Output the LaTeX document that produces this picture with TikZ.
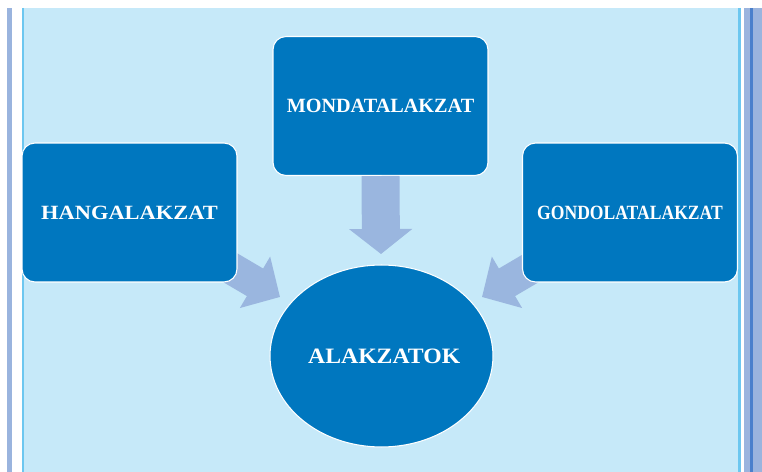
\documentclass[tikz,border=0pt]{standalone}
\usepackage{fontspec}
\setmainfont{Liberation Serif}
\usepackage{graphicx}
\usetikzlibrary{shapes.geometric,arrows.meta}
\definecolor{panelblue}{HTML}{C6E9F9}
\definecolor{boxblue}{HTML}{0077BF}
\definecolor{arrowblue}{HTML}{9AB6DF}
\definecolor{barblue}{HTML}{9AB4DE}
\definecolor{edgecyan}{HTML}{6CC7F0}
\definecolor{bardark}{HTML}{4A80CC}
\newcommand{\lbl}[3][11.5]{\scalebox{#2}[1]{\fontsize{#1}{13}\selectfont\bfseries #3}}
\begin{document}
\begin{tikzpicture}[x=0.02cm, y=-0.02cm,
	box/.style={draw=white, line width=0.6pt, fill=boxblue, rounded corners=0.26cm,
		minimum width=4.3cm, minimum height=2.78cm, inner sep=0pt, text=white},
	blockarrow/.style={draw=arrowblue, line width=0.76cm,
		-{Triangle[length=0.5cm, width=1.24cm]}}]
	\useasboundingbox (0,0) rectangle (762,472);
	% frame
	\fill[barblue] (7,8) rectangle (12,472);
	\fill[barblue] (744,8) rectangle (762,472);
	\fill[bardark] (750,8) rectangle (753,472);
	\fill[panelblue] (22,8) rectangle (741,472);
	\draw[edgecyan, line width=1.2pt] (23,8) -- (23,472);
	\draw[edgecyan, line width=1.2pt] (739.5,8) -- (739.5,472);
	% arrows
	\coordinate (tipl) at (280,297);
	\coordinate (tipt) at (381,254);
	\coordinate (tipr) at (482,297);
	\coordinate (startl) at (212,257);
	\coordinate (startr) at (550,257);
	\draw[blockarrow, line width=0.64cm, -{Triangle[length=0.58cm, width=1.16cm]}] (startl) -- (tipl);
	\draw[blockarrow, line width=0.64cm, -{Triangle[length=0.58cm, width=1.16cm]}] (startr) -- (tipr);
	% boxes
	\node[box] (hang) at (129.5,212.5) {\lbl{1.11}{HANGALAKZAT}};
	\node[box] (mond) at (380.5,106) {\lbl{1.0}{MONDATALAKZAT}};
	\node[box] (gond) at (630,212.5) {\lbl{0.87}{GONDOLATALAKZAT}};
	\draw[blockarrow] (mond.south) -- (tipt);
	\node[ellipse, draw=white, line width=0.6pt, fill=boxblue, text=white,
		minimum width=4.46cm, minimum height=3.64cm, inner sep=0pt] (alak) at (381.5,356) {\lbl[12.5]{1.08}{\hspace{0.1cm}ALAKZATOK}};
\end{tikzpicture}
\end{document}
